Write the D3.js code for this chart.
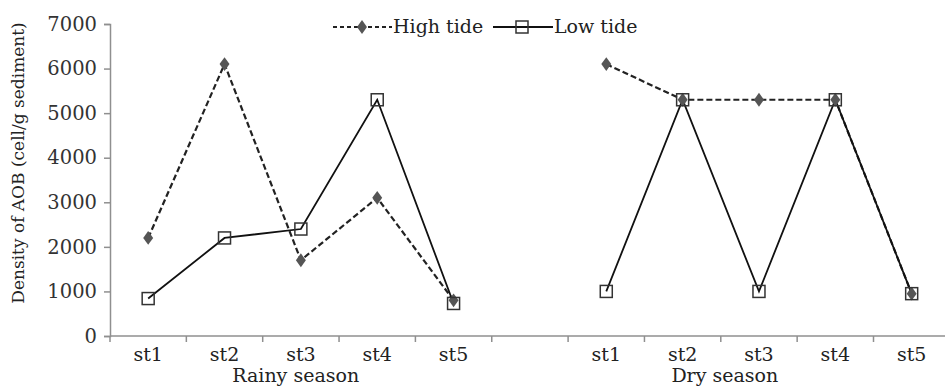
<!DOCTYPE html>
<html>
<head>
<meta charset="utf-8">
<script src="https://cdn.jsdelivr.net/npm/d3@7"></script>
<style>
  body { margin: 0; background: #fff; }
  svg { display: block; font-family: "DejaVu Serif", serif; }
</style>
</head>
<body>
<div id="chart"></div>
<script>
var stations = ["st1", "st2", "st3", "st4", "st5"];
var seasons = ["Rainy season", "Dry season"];
var highRainy = [2200, 6100, 1700, 3100, 800];
var lowRainy = [840, 2200, 2400, 5300, 730];
var highDry = [6100, 5300, 5300, 5300, 950];
var lowDry = [1000, 5300, 1000, 5300, 950];
var yTicks = [0, 1000, 2000, 3000, 4000, 5000, 6000, 7000];

var width = 945, height = 386;
var fontSize = '19px';

// 11 slots: 5 rainy stations, one empty gap, 5 dry stations
var slots = d3.range(11);
var x = d3.scaleBand()
    .domain(slots)
    .range([110, 110 + 76.35 * 11])
    .padding(0);

var y = d3.scaleLinear()
    .domain([0, 7000])
    .range([336, 24]);

var svg = d3.select('#chart').append('svg')
    .attr('width', width)
    .attr('height', height);

var axisColor = '#8f8f8f';

// y axis
var yAxis = d3.axisLeft(y)
    .tickValues(yTicks)
    .tickSize(6)
    .tickPadding(7)
    .tickFormat(d3.format('d'));

var gy = svg.append('g')
    .attr('transform', 'translate(110,0)')
    .call(yAxis);
gy.select('.domain').attr('stroke', axisColor).attr('stroke-width', 1.5);
gy.selectAll('.tick line').attr('stroke', axisColor).attr('stroke-width', 1.5);
gy.selectAll('.tick text')
    .attr('fill', '#333')
    .attr('font-size', '19.5px')
    .attr('font-family', '"DejaVu Serif", serif');

// x axis (category boundaries)
var gx = svg.append('g').attr('class', 'x axis');
gx.append('line')
    .attr('x1', 110).attr('x2', width)
    .attr('y1', y(0)).attr('y2', y(0))
    .attr('stroke', axisColor).attr('stroke-width', 1.5);
gx.selectAll('.xtick')
    .data(d3.range(12))
    .enter().append('line')
    .attr('x1', function(i) { return 110 + i * x.step(); })
    .attr('x2', function(i) { return 110 + i * x.step(); })
    .attr('y1', y(0))
    .attr('y2', y(0) + 6)
    .attr('stroke', axisColor).attr('stroke-width', 1.5);

var catLabels = stations.concat([''], stations);
gx.selectAll('.xlabel')
    .data(catLabels)
    .enter().append('text')
    .attr('x', function(d, i) { return x(i) + x.bandwidth() / 2; })
    .attr('y', 361)
    .attr('text-anchor', 'middle')
    .attr('font-size', fontSize)
    .attr('fill', '#222')
    .text(function(d) { return d; });

// season labels
svg.append('text')
    .attr('x', x(2) + 33)
    .attr('y', 382)
    .attr('text-anchor', 'middle')
    .attr('font-size', fontSize)
    .attr('fill', '#222')
    .text(seasons[0]);
svg.append('text')
    .attr('x', x(8) + 4)
    .attr('y', 382)
    .attr('text-anchor', 'middle')
    .attr('font-size', fontSize)
    .attr('fill', '#222')
    .text(seasons[1]);

// y title
svg.append('text')
    .attr('transform', 'translate(24,' + 163 + ') rotate(-90)')
    .attr('text-anchor', 'middle')
    .attr('font-size', '17px')
    .attr('fill', '#222')
    .text('Density of AOB (cell/g sediment)');

var cx = function(i) { return x(i) + x.bandwidth() / 2; };
var line = d3.line()
    .x(function(d) { return cx(d.i); })
    .y(function(d) { return y(d.v); });

function toPts(vals, offset) {
    return vals.map(function(v, k) { return {i: k + offset, v: v}; });
}

var highSets = [toPts(highRainy, 0), toPts(highDry, 6)];
var lowSets = [toPts(lowRainy, 0), toPts(lowDry, 6)];

svg.selectAll('.high-line')
    .data(highSets)
    .enter().append('path')
    .attr('d', line)
    .attr('fill', 'none')
    .attr('stroke', '#222')
    .attr('stroke-width', 2.2)
    .attr('stroke-dasharray', '6,3');

svg.selectAll('.low-line')
    .data(lowSets)
    .enter().append('path')
    .attr('d', line)
    .attr('fill', 'none')
    .attr('stroke', '#111')
    .attr('stroke-width', 1.8);

var diamond = d3.symbol().type(d3.symbolDiamond).size(55);
var highPts = highSets[0].concat(highSets[1]);
var lowPts = lowSets[0].concat(lowSets[1]);

svg.selectAll('.high-pt')
    .data(highPts)
    .enter().append('path')
    .attr('transform', function(d) { return 'translate(' + cx(d.i) + ',' + y(d.v) + ') scale(1.25,1)'; })
    .attr('d', diamond)
    .attr('fill', '#555');

svg.selectAll('.low-pt')
    .data(lowPts)
    .enter().append('rect')
    .attr('x', function(d) { return cx(d.i) - 6; })
    .attr('y', function(d) { return y(d.v) - 6; })
    .attr('width', 12)
    .attr('height', 12)
    .attr('fill', 'none')
    .attr('stroke', '#333')
    .attr('stroke-width', 1.5);

// legend
var lg = svg.append('g');
lg.append('line')
    .attr('x1', 333).attr('x2', 392).attr('y1', 27).attr('y2', 27)
    .attr('stroke', '#222').attr('stroke-width', 2.2).attr('stroke-dasharray', '4,3');
lg.append('path')
    .attr('transform', 'translate(362,27) scale(1.25,1)')
    .attr('d', diamond)
    .attr('fill', '#555');
lg.append('text')
    .attr('x', 393).attr('y', 33)
    .attr('font-size', fontSize).attr('fill', '#222')
    .text('High tide');
lg.append('line')
    .attr('x1', 493).attr('x2', 553).attr('y1', 27).attr('y2', 27)
    .attr('stroke', '#111').attr('stroke-width', 1.8);
lg.append('rect')
    .attr('x', 516).attr('y', 21).attr('width', 12).attr('height', 12)
    .attr('fill', 'none').attr('stroke', '#333').attr('stroke-width', 1.5);
lg.append('text')
    .attr('x', 554).attr('y', 33)
    .attr('font-size', fontSize).attr('fill', '#222')
    .text('Low tide');
</script>
</body>
</html>
